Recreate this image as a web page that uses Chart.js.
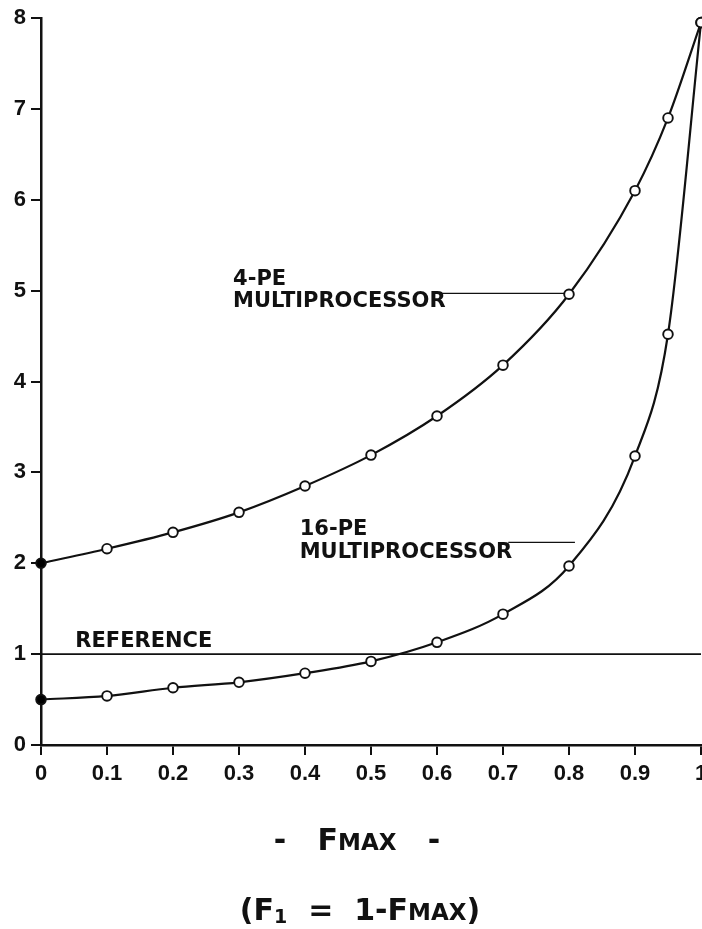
<!DOCTYPE html>
<html>
<head>
<meta charset="utf-8">
<script src="https://cdn.jsdelivr.net/npm/chart.js@4.4.1/dist/chart.umd.min.js"></script>
<style>
  html, body { margin: 0; padding: 0; background: #fff; }
  #c { display: block; }
</style>
</head>
<body>
<canvas id="c" width="702" height="929"></canvas>
<script>
// ---- data ----
const fmax = [0, 0.1, 0.2, 0.3, 0.4, 0.5, 0.6, 0.7, 0.8, 0.9, 0.95, 1.0];
const pe4  = [2.00, 2.16, 2.34, 2.56, 2.85, 3.19, 3.62, 4.18, 4.96, 6.10, 6.90, 7.95];
const pe16 = [0.50, 0.54, 0.63, 0.69, 0.79, 0.92, 1.13, 1.44, 1.97, 3.18, 4.52, 7.95];
const referenceX = [0, 1];
const referenceY = [1, 1];
const leader4X = [0.603, 0.80];
const leader4Y = [4.97, 4.97];
const leader16X = [0.708, 0.809];
const leader16Y = [2.23, 2.23];
const xTickLabels = ['0', '0.1', '0.2', '0.3', '0.4', '0.5', '0.6', '0.7', '0.8', '0.9', '1'];
const yTickLabels = ['0', '1', '2', '3', '4', '5', '6', '7', '8'];

const zip = (xs, ys) => xs.map((x, i) => ({ x: x, y: ys[i] }));
const pointFill = (arr) => arr.map((_, i) => i === 0 ? '#000' : '#fff');

const BLACK = '#111';
const LABEL_FONT = 'bold 21px "DejaVu Sans"';

const textPlugin = {
  id: 'texts',
  afterDraw(chart) {
    const ctx = chart.ctx;
    const xs = chart.scales.x, ys = chart.scales.y;
    ctx.save();
    ctx.fillStyle = BLACK;
    ctx.textBaseline = 'middle';
    ctx.textAlign = 'left';
    ctx.font = LABEL_FONT;
    const put = (t, x, y) => ctx.fillText(t, xs.getPixelForValue(x), ys.getPixelForValue(y));
    put('4-PE', 0.291, 5.12);
    put('MULTIPROCESSOR', 0.291, 4.88);
    put('16-PE', 0.392, 2.37);
    put('MULTIPROCESSOR', 0.392, 2.12);
    put('REFERENCE', 0.052, 1.14);

    // axis title lines
    ctx.textBaseline = 'alphabetic';
    const drawPieces = (pieces, cx, baseline) => {
      let total = 0;
      pieces.forEach(p => { ctx.font = p.f; p.w = ctx.measureText(p.t).width; total += p.w; });
      let x = cx - total / 2;
      pieces.forEach(p => {
        ctx.font = p.f;
        ctx.fillText(p.t, x, baseline + (p.dy || 0));
        x += p.w;
      });
    };
    const big = 'bold 30px "DejaVu Sans"';
    const small = 'bold 23px "DejaVu Sans"';
    const sub = 'bold 19px "DejaVu Sans"';
    drawPieces([
      { t: '-   ', f: big },
      { t: 'F', f: big },
      { t: 'MAX', f: small },
      { t: '   -', f: big }
    ], 357, 850);
    drawPieces([
      { t: '(F', f: big },
      { t: '1', f: sub, dy: 3 },
      { t: '  =  1-F', f: big },
      { t: 'MAX', f: small },
      { t: ')', f: big }
    ], 360, 920);
    ctx.restore();
  }
};

const tickFont = { family: '"Liberation Sans"', weight: 'bold', size: 22 };

new Chart(document.getElementById('c'), {
  type: 'line',
  data: {
    datasets: [
      {
        label: '4-PE MULTIPROCESSOR',
        data: zip(fmax, pe4),
        borderColor: BLACK, borderWidth: 2.2,
        cubicInterpolationMode: 'monotone',
        pointRadius: 4.8, pointBorderWidth: 1.9,
        pointBorderColor: BLACK, pointBackgroundColor: pointFill(pe4),
        clip: false
      },
      {
        label: '16-PE MULTIPROCESSOR',
        data: zip(fmax, pe16),
        borderColor: BLACK, borderWidth: 2.2,
        cubicInterpolationMode: 'monotone',
        pointRadius: 4.8, pointBorderWidth: 1.9,
        pointBorderColor: BLACK, pointBackgroundColor: pointFill(pe16),
        clip: false
      },
      {
        label: 'REFERENCE',
        data: zip(referenceX, referenceY),
        borderColor: BLACK, borderWidth: 1.8, pointRadius: 0, clip: false
      },
      {
        label: 'leader4',
        data: zip(leader4X, leader4Y),
        borderColor: BLACK, borderWidth: 1.4, pointRadius: 0
      },
      {
        label: 'leader16',
        data: zip(leader16X, leader16Y),
        borderColor: BLACK, borderWidth: 1.4, pointRadius: 0
      }
    ]
  },
  options: {
    responsive: false,
    animation: false,
    devicePixelRatio: 1,
    layout: { autoPadding: false, padding: { top: 18, right: 1, left: 0, bottom: 0 } },
    plugins: { legend: { display: false }, tooltip: { enabled: false } },
    scales: {
      x: {
        type: 'linear', min: 0, max: 1,
        afterFit: (s) => { s.height = 184; s.paddingLeft = 0; s.paddingRight = 0; },
        afterBuildTicks: (s) => { s.ticks = xTickLabels.map((_, i) => ({ value: i / 10 })); },
        ticks: {
          stepSize: 0.1, autoSkip: false, maxRotation: 0, minRotation: 0,
          color: BLACK, font: tickFont, padding: 6,
          callback: (v, i) => xTickLabels[i]
        },
        grid: { display: true, drawOnChartArea: false, drawTicks: true, tickLength: 10, color: BLACK, lineWidth: 2 },
        border: { display: true, color: BLACK, width: 2.5 }
      },
      y: {
        type: 'linear', min: 0, max: 8,
        afterFit: (s) => { s.width = 41; s.paddingTop = 0; s.paddingBottom = 0; },
        ticks: {
          stepSize: 1, color: BLACK, font: tickFont, padding: 5,
          callback: (v, i) => yTickLabels[i]
        },
        grid: { display: true, drawOnChartArea: false, drawTicks: true, tickLength: 10, color: BLACK, lineWidth: 2 },
        border: { display: true, color: BLACK, width: 2.5 }
      }
    }
  },
  plugins: [textPlugin]
});
</script>
</body>
</html>
